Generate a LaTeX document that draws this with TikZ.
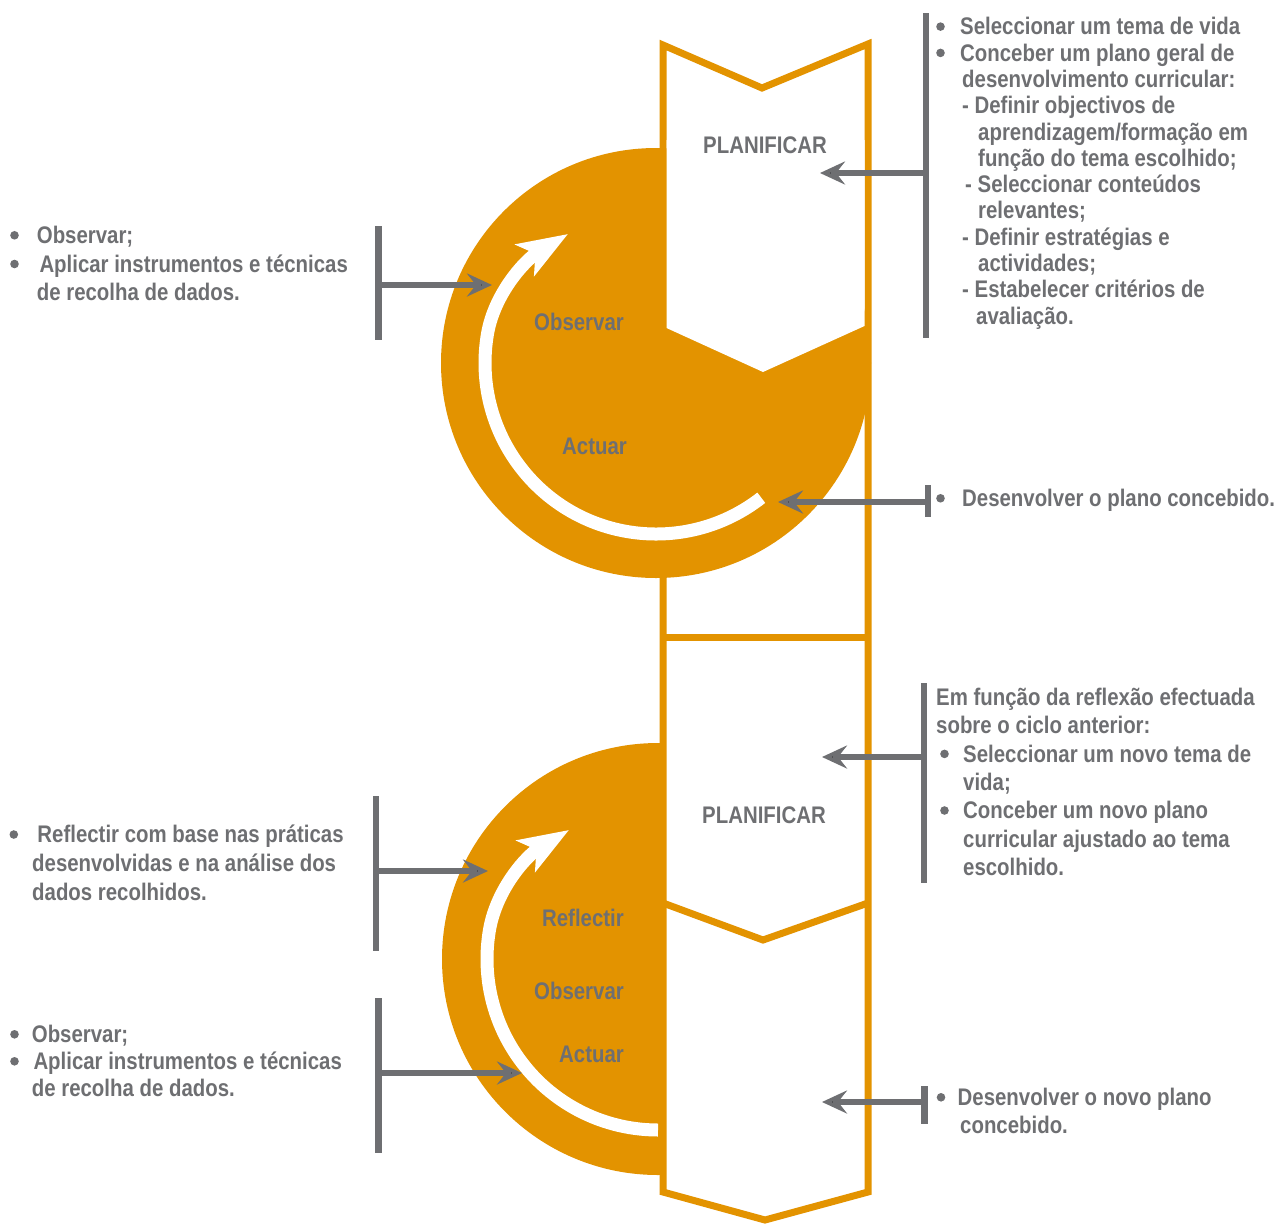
\documentclass[tikz,border=0pt]{standalone}
\usepackage{fontspec}
\newfontfamily\condfont{Liberation Sans}[FakeStretch=0.85]
\usetikzlibrary{arrows.meta}
\definecolor{orng}{HTML}{E39300}
\definecolor{gry}{HTML}{6E6F72}
\newcommand{\bulx}[1]{\makebox[#1][l]{\raisebox{4pt}{\tikz\fill[gry] (0pt,0pt) circle[radius=4.3pt];}}}
\newcommand{\indx}[1]{\hspace*{#1}}
\tikzset{
  txt/.style={font=\condfont\bfseries\fontsize{24}{#1}\selectfont, text=gry, align=left, inner sep=0pt, anchor=north west},
  lbl/.style={font=\condfont\bfseries\fontsize{24}{28}\selectfont, text=gry, inner sep=0pt},
  gbar/.style={draw=gry, line width=6.5pt},
  garrow/.style={draw=gry, line width=6pt, -{Stealth[length=25pt,width=23pt,inset=9pt]}},
  warrow/.style={draw=white, line width=13pt, -{Stealth[length=50pt,width=36pt,inset=12pt]}},
  orngline/.style={draw=orng, line width=7pt},
}
\begin{document}
\begin{tikzpicture}[x=1pt,y=-1pt]
\useasboundingbox (0,0) rectangle (1275,1227);

%SHAPES
\begin{scope}
  \clip (400,700) rectangle (667,1200);
  \fill[orng] (658,959) circle[radius=216];
\end{scope}
\draw[orngline, fill=white] (663,45) -- (762,88) -- (868,44) -- (868,1192) -- (765,1220) -- (663,1192) -- cycle;
\draw[orngline] (663,637) -- (868,637);
\draw[orngline] (663,903) -- (763,940) -- (868,903);
\fill[orng] (656,363) circle[radius=215];
\fill[white] (666.5,140) -- (864.5,140) -- (864.5,326) -- (763,372) -- (666.5,328) -- cycle;

%CYCLE ARROWS
\draw[warrow] (656,363) ++(52:171) arc[start angle=52, end angle=190, radius=171]
  .. controls (494.6,293.3) and (525,260) .. (568,234);
\draw[warrow] (658,959) ++(90:171) arc[start angle=90, end angle=190, radius=171]
  .. controls (496.6,889.3) and (526,856) .. (569,830);

%NODE
\node[lbl] (planA) at (765,145) {PLANIFICAR};
\node[lbl, anchor=east] (obsA) at (624,322) {Observar};
\node[lbl, anchor=east] (actA) at (627,446) {Actuar};
\node[lbl] (planB) at (764,815) {PLANIFICAR};
\node[lbl, anchor=east] (refB) at (624,918) {Reflectir};
\node[lbl, anchor=east] (obsB) at (624,991) {Observar};
\node[lbl, anchor=east] (actB) at (624,1054) {Actuar};

\node[txt=26.3] (txtTR) at (936,17.3) {\bulx{24pt}Seleccionar um tema de vida\\
  \bulx{24pt}Conceber um plano geral de\\
  \indx{26pt}desenvolvimento curricular:\\
  \indx{26pt}- Definir objectivos de\\
  \indx{42pt}aprendizagem/formação em\\
  \indx{42pt}função do tema escolhido;\\
  \indx{29pt}- Seleccionar conteúdos\\
  \indx{42pt}relevantes;\\
  \indx{26pt}- Definir estratégias e\\
  \indx{42pt}actividades;\\
  \indx{26pt}- Estabelecer critérios de\\
  \indx{40pt}avaliação.};
\node[txt=28] (txtMR) at (936,489) {\bulx{26pt}Desenvolver o plano concebido.};
\node[txt=28.3] (txtBRU) at (936,688) {Em função da reflexão efectuada\\
  sobre o ciclo anterior:\\
  \indx{4pt}\bulx{23pt}Seleccionar um novo tema de\\
  \indx{27pt}vida;\\
  \indx{4pt}\bulx{23pt}Conceber um novo plano\\
  \indx{27pt}curricular ajustado ao tema\\
  \indx{27pt}escolhido.};
\node[txt=28] (txtBRL) at (936.5,1088) {\bulx{21pt}Desenvolver o novo plano\\
  \indx{23.5pt}concebido.};
\node[txt=28.7] (txtTL) at (10,226) {\bulx{26.7pt}Observar;\\
  \bulx{29.3pt}Aplicar instrumentos e técnicas\\
  \indx{26.7pt}de recolha de dados.};
\node[txt=29] (txtBLU) at (9.3,825) {\bulx{28pt}Reflectir com base nas práticas\\
  \indx{22.7pt}desenvolvidas e na análise dos\\
  \indx{22.7pt}dados recolhidos.};
\node[txt=27] (txtBLL) at (10,1025) {\bulx{21.7pt}Observar;\\
  \bulx{23.3pt}Aplicar instrumentos e técnicas\\
  \indx{21.7pt}de recolha de dados.};

%BRACKETS
\coordinate (barTRa) at (926,13);   \coordinate (barTRb) at (926,338);
\coordinate (barTRm) at (926,173);  \coordinate (tipTR) at (820,173);
\coordinate (barTLa) at (378.5,226); \coordinate (barTLb) at (378.5,340);
\coordinate (barTLm) at (378.5,285); \coordinate (tipTL) at (492,285);
\coordinate (barMRa) at (928,485);  \coordinate (barMRb) at (928,517);
\coordinate (barMRm) at (928,502);  \coordinate (tipMR) at (778,502);
\coordinate (barBRUa) at (924,683); \coordinate (barBRUb) at (924,883);
\coordinate (barBRUm) at (924,757); \coordinate (tipBRU) at (822,757);
\coordinate (barBLUa) at (376,796); \coordinate (barBLUb) at (376,951);
\coordinate (barBLUm) at (376,871); \coordinate (tipBLU) at (488,871);
\coordinate (barBLLa) at (378.5,998); \coordinate (barBLLb) at (378.5,1153);
\coordinate (barBLLm) at (378.5,1073); \coordinate (tipBLL) at (522,1073);
\coordinate (barBRLa) at (924.5,1086); \coordinate (barBRLb) at (924.5,1124);
\coordinate (barBRLm) at (924.5,1102); \coordinate (tipBRL) at (822,1102);

%EDGE
\foreach \b in {TR,TL,MR,BRU,BLU,BLL,BRL}{
  \draw[gbar] (bar\b a) -- (bar\b b);
  \draw[garrow] (bar\b m) -- (tip\b);
}
\end{tikzpicture}
\end{document}
